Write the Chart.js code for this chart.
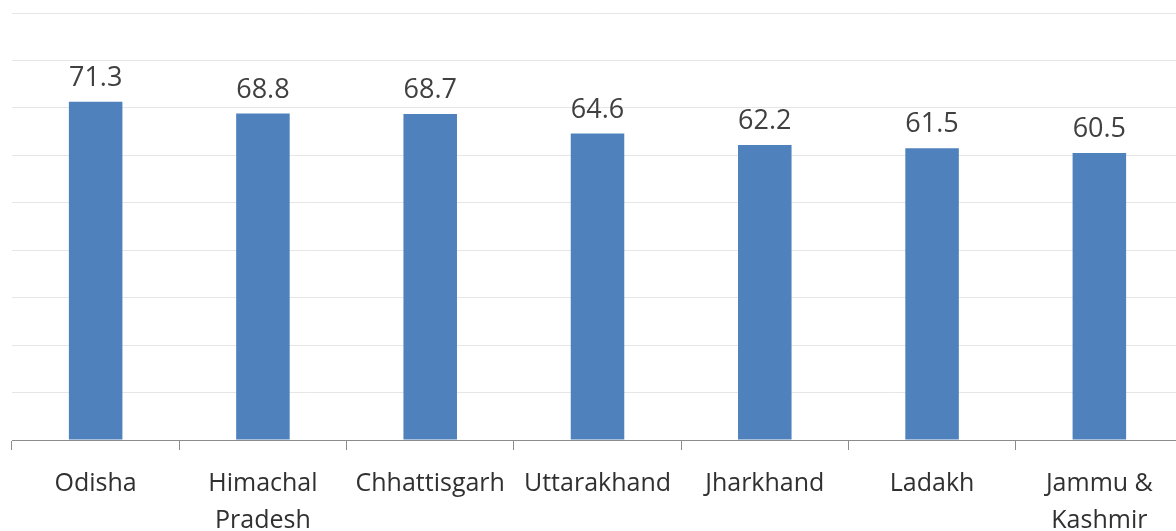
<!DOCTYPE html>
<html>
<head>
<meta charset="utf-8">
<script src="https://cdn.jsdelivr.net/npm/chart.js@4"></script>
<style>
    html, body { margin: 0; padding: 0; background: #fff; overflow: hidden; }
    #wrap { position: relative; width: 1183px; height: 531px; }
</style>
</head>
<body>
<div id="wrap"><canvas id="barChart"></canvas></div>
<script>
const states = ["Odisha", ["Himachal", "Pradesh"], "Chhattisgarh", "Uttarakhand", "Jharkhand", "Ladakh", ["Jammu &", "Kashmir"]];
const values = [71.3, 68.8, 68.7, 64.6, 62.2, 61.5, 60.5];
const yMax = 90;
const yStep = 10;

const labelFont = "'Open Sans', sans-serif";

// values above each bar
const barValues = {
    id: "barValues",
    afterDatasetsDraw(chart) {
        const ctx = chart.ctx;
        const meta = chart.getDatasetMeta(0);
        ctx.save();
        ctx.font = "27px " + labelFont;
        ctx.fillStyle = "#404040";
        ctx.textAlign = "center";
        ctx.textBaseline = "alphabetic";
        meta.data.forEach((bar, i) => {
            ctx.fillText(values[i].toFixed(1), bar.x, bar.y - 16);
        });
        ctx.restore();
    },
};

const barCanvas = document.getElementById("barChart");
var barChart = new Chart(barCanvas, {
    type: "bar",
    data: {
        labels: states,
        datasets: [
            {
                data: values,
                backgroundColor: "#4f81bd",
                barPercentage: 0.64,
                categoryPercentage: 0.5,
            },
        ],
    },
    options: {
        responsive: true,
        maintainAspectRatio: false,
        animation: false,
        layout: { padding: { top: 13, right: 0, left: 0, bottom: 0 } },
        plugins: {
            legend: { display: false },
            tooltip: { enabled: false },
        },
        scales: {
            x: {
                grid: {
                    offset: true,
                    drawOnChartArea: false,
                    color: "#8c8c8c",
                    tickLength: 10,
                },
                border: { color: "#8c8c8c", width: 1 },
                ticks: {
                    color: "#303030",
                    font: { family: labelFont, size: 25, lineHeight: 1.46 },
                    padding: 16,
                    maxRotation: 0,
                    autoSkip: false,
                },
                afterFit(scale) {
                    scale.height = 91;
                },
            },
            y: {
                min: 0,
                max: yMax,
                ticks: { display: false, stepSize: yStep },
                grid: { color: "#e6e6e6", drawTicks: false },
                border: { display: false },
                afterFit(scale) {
                    scale.width = 12;
                },
            },
        },
    },
    plugins: [barValues],
});
</script>
</body>
</html>
